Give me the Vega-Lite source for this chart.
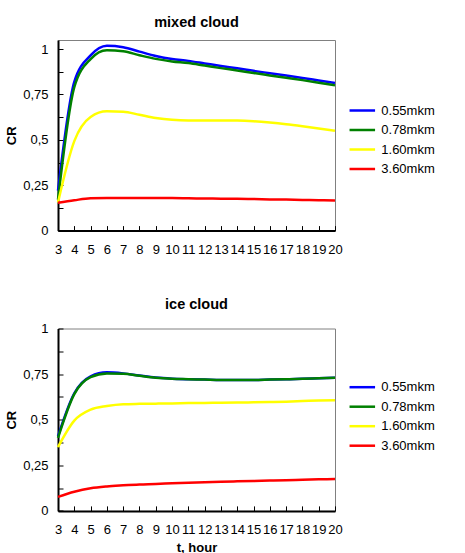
{
  "$schema": "https://vega.github.io/schema/vega-lite/v6.json",
  "padding": {"top": 14, "left": 4, "right": 0, "bottom": 0},
  "background": "white",
  "config": {
    "font": "Liberation Sans",
    "view": {"stroke": "#808080", "strokeWidth": 1},
    "axis": {
      "grid": false, "domainColor": "#000000", "domainWidth": 2,
      "tickColor": "#000000", "tickWidth": 1, "tickSize": -5,
      "labelColor": "#000000", "labelFont": "Liberation Sans", "labelFontSize": 13,
      "labelOverlap": false, "labelBound": false, "labelFlush": false,
      "titleFont": "Liberation Sans", "titleFontSize": 13, "titleFontWeight": "bold", "titleColor": "#000000"
    },
    "legend": {
      "symbolType": "M-2,0H2", "symbolStrokeWidth": 2.5, "symbolSize": 163,
      "labelFont": "Liberation Sans", "labelFontSize": 13, "labelColor": "#000000",
      "labelOffset": 11, "rowPadding": 4.5, "padding": 0
    },
    "title": {"font": "Liberation Sans", "fontSize": 14.5, "fontWeight": "bold", "color": "#000000", "offset": 10}
  },
  "datasets": {
    "mixed": [
      {"t": 3, "series": "0.55mkm", "CR": 0.22}, {"t": 4, "series": "0.55mkm", "CR": 0.82}, {"t": 5, "series": "0.55mkm", "CR": 0.965}, {"t": 6, "series": "0.55mkm", "CR": 1.018}, {"t": 7, "series": "0.55mkm", "CR": 1.01}, {"t": 8, "series": "0.55mkm", "CR": 0.986}, {"t": 9, "series": "0.55mkm", "CR": 0.962}, {"t": 10, "series": "0.55mkm", "CR": 0.945}, {"t": 11, "series": "0.55mkm", "CR": 0.935}, {"t": 12, "series": "0.55mkm", "CR": 0.921}, {"t": 13, "series": "0.55mkm", "CR": 0.907}, {"t": 14, "series": "0.55mkm", "CR": 0.894}, {"t": 15, "series": "0.55mkm", "CR": 0.88}, {"t": 16, "series": "0.55mkm", "CR": 0.867}, {"t": 17, "series": "0.55mkm", "CR": 0.854}, {"t": 18, "series": "0.55mkm", "CR": 0.841}, {"t": 19, "series": "0.55mkm", "CR": 0.827}, {"t": 20, "series": "0.55mkm", "CR": 0.813},
      {"t": 3, "series": "0.78mkm", "CR": 0.17}, {"t": 4, "series": "0.78mkm", "CR": 0.79}, {"t": 5, "series": "0.78mkm", "CR": 0.945}, {"t": 6, "series": "0.78mkm", "CR": 0.994}, {"t": 7, "series": "0.78mkm", "CR": 0.988}, {"t": 8, "series": "0.78mkm", "CR": 0.966}, {"t": 9, "series": "0.78mkm", "CR": 0.946}, {"t": 10, "series": "0.78mkm", "CR": 0.932}, {"t": 11, "series": "0.78mkm", "CR": 0.923}, {"t": 12, "series": "0.78mkm", "CR": 0.909}, {"t": 13, "series": "0.78mkm", "CR": 0.895}, {"t": 14, "series": "0.78mkm", "CR": 0.882}, {"t": 15, "series": "0.78mkm", "CR": 0.868}, {"t": 16, "series": "0.78mkm", "CR": 0.855}, {"t": 17, "series": "0.78mkm", "CR": 0.842}, {"t": 18, "series": "0.78mkm", "CR": 0.829}, {"t": 19, "series": "0.78mkm", "CR": 0.815}, {"t": 20, "series": "0.78mkm", "CR": 0.80},
      {"t": 3, "series": "1.60mkm", "CR": 0.155}, {"t": 4, "series": "1.60mkm", "CR": 0.493}, {"t": 5, "series": "1.60mkm", "CR": 0.626}, {"t": 6, "series": "1.60mkm", "CR": 0.657}, {"t": 7, "series": "1.60mkm", "CR": 0.655}, {"t": 8, "series": "1.60mkm", "CR": 0.638}, {"t": 9, "series": "1.60mkm", "CR": 0.62}, {"t": 10, "series": "1.60mkm", "CR": 0.61}, {"t": 11, "series": "1.60mkm", "CR": 0.607}, {"t": 12, "series": "1.60mkm", "CR": 0.607}, {"t": 13, "series": "1.60mkm", "CR": 0.607}, {"t": 14, "series": "1.60mkm", "CR": 0.606}, {"t": 15, "series": "1.60mkm", "CR": 0.602}, {"t": 16, "series": "1.60mkm", "CR": 0.595}, {"t": 17, "series": "1.60mkm", "CR": 0.586}, {"t": 18, "series": "1.60mkm", "CR": 0.575}, {"t": 19, "series": "1.60mkm", "CR": 0.563}, {"t": 20, "series": "1.60mkm", "CR": 0.55},
      {"t": 3, "series": "3.60mkm", "CR": 0.153}, {"t": 4, "series": "3.60mkm", "CR": 0.167}, {"t": 5, "series": "3.60mkm", "CR": 0.178}, {"t": 6, "series": "3.60mkm", "CR": 0.179}, {"t": 7, "series": "3.60mkm", "CR": 0.179}, {"t": 8, "series": "3.60mkm", "CR": 0.179}, {"t": 9, "series": "3.60mkm", "CR": 0.179}, {"t": 10, "series": "3.60mkm", "CR": 0.179}, {"t": 11, "series": "3.60mkm", "CR": 0.178}, {"t": 12, "series": "3.60mkm", "CR": 0.177}, {"t": 13, "series": "3.60mkm", "CR": 0.176}, {"t": 14, "series": "3.60mkm", "CR": 0.175}, {"t": 15, "series": "3.60mkm", "CR": 0.174}, {"t": 16, "series": "3.60mkm", "CR": 0.172}, {"t": 17, "series": "3.60mkm", "CR": 0.171}, {"t": 18, "series": "3.60mkm", "CR": 0.169}, {"t": 19, "series": "3.60mkm", "CR": 0.167}, {"t": 20, "series": "3.60mkm", "CR": 0.166}
    ],
    "ice": [
      {"t": 3, "series": "0.55mkm", "CR": 0.41}, {"t": 4, "series": "0.55mkm", "CR": 0.645}, {"t": 5, "series": "0.55mkm", "CR": 0.738}, {"t": 6, "series": "0.55mkm", "CR": 0.76}, {"t": 7, "series": "0.55mkm", "CR": 0.754}, {"t": 8, "series": "0.55mkm", "CR": 0.742}, {"t": 9, "series": "0.55mkm", "CR": 0.731}, {"t": 10, "series": "0.55mkm", "CR": 0.725}, {"t": 11, "series": "0.55mkm", "CR": 0.722}, {"t": 12, "series": "0.55mkm", "CR": 0.72}, {"t": 13, "series": "0.55mkm", "CR": 0.718}, {"t": 14, "series": "0.55mkm", "CR": 0.718}, {"t": 15, "series": "0.55mkm", "CR": 0.718}, {"t": 16, "series": "0.55mkm", "CR": 0.72}, {"t": 17, "series": "0.55mkm", "CR": 0.722}, {"t": 18, "series": "0.55mkm", "CR": 0.724}, {"t": 19, "series": "0.55mkm", "CR": 0.727}, {"t": 20, "series": "0.55mkm", "CR": 0.73},
      {"t": 3, "series": "0.78mkm", "CR": 0.40}, {"t": 4, "series": "0.78mkm", "CR": 0.64}, {"t": 5, "series": "0.78mkm", "CR": 0.733}, {"t": 6, "series": "0.78mkm", "CR": 0.753}, {"t": 7, "series": "0.78mkm", "CR": 0.752}, {"t": 8, "series": "0.78mkm", "CR": 0.741}, {"t": 9, "series": "0.78mkm", "CR": 0.73}, {"t": 10, "series": "0.78mkm", "CR": 0.724}, {"t": 11, "series": "0.78mkm", "CR": 0.722}, {"t": 12, "series": "0.78mkm", "CR": 0.72}, {"t": 13, "series": "0.78mkm", "CR": 0.718}, {"t": 14, "series": "0.78mkm", "CR": 0.718}, {"t": 15, "series": "0.78mkm", "CR": 0.718}, {"t": 16, "series": "0.78mkm", "CR": 0.72}, {"t": 17, "series": "0.78mkm", "CR": 0.722}, {"t": 18, "series": "0.78mkm", "CR": 0.724}, {"t": 19, "series": "0.78mkm", "CR": 0.727}, {"t": 20, "series": "0.78mkm", "CR": 0.73},
      {"t": 3, "series": "1.60mkm", "CR": 0.35}, {"t": 4, "series": "1.60mkm", "CR": 0.495}, {"t": 5, "series": "1.60mkm", "CR": 0.555}, {"t": 6, "series": "1.60mkm", "CR": 0.575}, {"t": 7, "series": "1.60mkm", "CR": 0.585}, {"t": 8, "series": "1.60mkm", "CR": 0.587}, {"t": 9, "series": "1.60mkm", "CR": 0.588}, {"t": 10, "series": "1.60mkm", "CR": 0.589}, {"t": 11, "series": "1.60mkm", "CR": 0.591}, {"t": 12, "series": "1.60mkm", "CR": 0.592}, {"t": 13, "series": "1.60mkm", "CR": 0.593}, {"t": 14, "series": "1.60mkm", "CR": 0.594}, {"t": 15, "series": "1.60mkm", "CR": 0.595}, {"t": 16, "series": "1.60mkm", "CR": 0.597}, {"t": 17, "series": "1.60mkm", "CR": 0.599}, {"t": 18, "series": "1.60mkm", "CR": 0.602}, {"t": 19, "series": "1.60mkm", "CR": 0.605}, {"t": 20, "series": "1.60mkm", "CR": 0.607},
      {"t": 3, "series": "3.60mkm", "CR": 0.077}, {"t": 4, "series": "3.60mkm", "CR": 0.105}, {"t": 5, "series": "3.60mkm", "CR": 0.124}, {"t": 6, "series": "3.60mkm", "CR": 0.134}, {"t": 7, "series": "3.60mkm", "CR": 0.14}, {"t": 8, "series": "3.60mkm", "CR": 0.145}, {"t": 9, "series": "3.60mkm", "CR": 0.148}, {"t": 10, "series": "3.60mkm", "CR": 0.152}, {"t": 11, "series": "3.60mkm", "CR": 0.155}, {"t": 12, "series": "3.60mkm", "CR": 0.157}, {"t": 13, "series": "3.60mkm", "CR": 0.16}, {"t": 14, "series": "3.60mkm", "CR": 0.162}, {"t": 15, "series": "3.60mkm", "CR": 0.164}, {"t": 16, "series": "3.60mkm", "CR": 0.166}, {"t": 17, "series": "3.60mkm", "CR": 0.168}, {"t": 18, "series": "3.60mkm", "CR": 0.171}, {"t": 19, "series": "3.60mkm", "CR": 0.173}, {"t": 20, "series": "3.60mkm", "CR": 0.175}
    ]
  },
  "spacing": 38.5,
  "resolve": {"scale": {"color": "independent"}, "legend": {"color": "independent"}},
  "vconcat": [
    {
      "width": 277, "height": 190.6,
      "title": "mixed cloud",
      "data": {"name": "mixed"},
      "mark": {"type": "line", "interpolate": "monotone", "strokeWidth": 2.5},
      "encoding": {
        "x": {"field": "t", "type": "quantitative",
          "scale": {"domain": [3, 20], "nice": false, "zero": false},
          "axis": {"values": [3,4,5,6,7,8,9,10,11,12,13,14,15,16,17,18,19,20], "title": null, "labelPadding": 18}},
        "y": {"field": "CR", "type": "quantitative",
          "scale": {"domain": [0, 1.05], "nice": false},
          "axis": {"values": [0,0.125,0.25,0.375,0.5,0.625,0.75,0.875,1], "labelExpr": "datum.value * 4 % 1 == 0 ? replace(format(datum.value, '~g'), '.', ',') : ''", "title": "CR", "labelPadding": 15, "titleX": -40}},
        "color": {"field": "series", "type": "nominal",
          "scale": {"domain": ["0.55mkm", "0.78mkm", "1.60mkm", "3.60mkm"], "range": ["#0000FF", "#008000", "#FFFF00", "#FF0000"]},
          "legend": {"title": null, "orient": "none", "legendX": 296.3, "legendY": 62.5}}
      }
    },
    {
      "width": 277, "height": 182.4,
      "title": "ice cloud",
      "data": {"name": "ice"},
      "mark": {"type": "line", "interpolate": "monotone", "strokeWidth": 2.5},
      "encoding": {
        "x": {"field": "t", "type": "quantitative",
          "scale": {"domain": [3, 20], "nice": false, "zero": false},
          "axis": {"values": [3,4,5,6,7,8,9,10,11,12,13,14,15,16,17,18,19,20], "title": "t, hour", "labelPadding": 18, "titlePadding": 5}},
        "y": {"field": "CR", "type": "quantitative",
          "scale": {"domain": [0, 1], "nice": false},
          "axis": {"values": [0,0.125,0.25,0.375,0.5,0.625,0.75,0.875,1], "labelExpr": "datum.value * 4 % 1 == 0 ? replace(format(datum.value, '~g'), '.', ',') : ''", "title": "CR", "labelPadding": 15, "titleX": -40}},
        "color": {"field": "series", "type": "nominal",
          "scale": {"domain": ["0.55mkm", "0.78mkm", "1.60mkm", "3.60mkm"], "range": ["#0000FF", "#008000", "#FFFF00", "#FF0000"]},
          "legend": {"title": null, "orient": "none", "legendX": 296.3, "legendY": 50.7}}
      }
    }
  ]
}
